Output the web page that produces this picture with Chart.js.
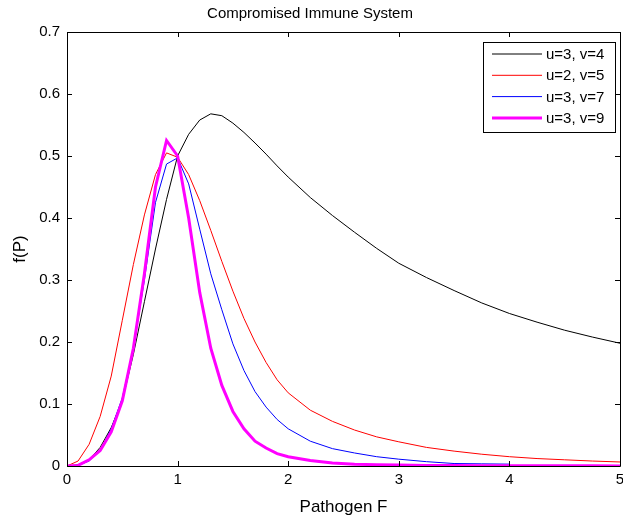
<!DOCTYPE html>
<html>
<head>
<meta charset="utf-8">
<script src="https://cdn.jsdelivr.net/npm/chart.js@4"></script>
<style>
    html, body { margin: 0; padding: 0; background: #fff; }
    #wrap { width: 623px; height: 520px; }
</style>
</head>
<body>
<div id="wrap"><canvas id="grafico" width="623" height="520"></canvas></div>
<script>
// valores (paso 0.1 hasta 2, luego mas espaciado)
var xs = [0, 0.1, 0.2, 0.3, 0.4, 0.5, 0.6, 0.7, 0.8, 0.9, 1.0, 1.1, 1.2, 1.3, 1.4, 1.5, 1.6, 1.7, 1.8, 1.9, 2.0,
    2.2, 2.4, 2.6, 2.8, 3.0, 3.25, 3.5, 3.75, 4.0, 4.25, 4.5, 4.75, 5.0];

var u3v4 = [0, 0.002, 0.01, 0.03, 0.062, 0.105, 0.18, 0.265, 0.35, 0.43, 0.5, 0.535, 0.558, 0.568, 0.565, 0.553, 0.538, 0.521, 0.503, 0.484, 0.466,
    0.433, 0.404, 0.377, 0.351, 0.327, 0.304, 0.283, 0.263, 0.246, 0.232, 0.219, 0.208, 0.198];
var u2v5 = [0, 0.008, 0.035, 0.08, 0.145, 0.235, 0.325, 0.405, 0.47, 0.505, 0.498, 0.47, 0.428, 0.38, 0.33, 0.282, 0.238, 0.2, 0.167, 0.139, 0.118,
    0.09, 0.072, 0.058, 0.047, 0.039, 0.03, 0.024, 0.019, 0.015, 0.012, 0.01, 0.008, 0.0065];
var u3v7 = [0, 0.001, 0.008, 0.025, 0.06, 0.11, 0.19, 0.3, 0.425, 0.487, 0.497, 0.455, 0.382, 0.31, 0.252, 0.197, 0.154, 0.12, 0.095, 0.075, 0.06,
    0.04, 0.028, 0.021, 0.015, 0.011, 0.007, 0.004, 0.0035, 0.003];
var u3v9 = [0, 0.001, 0.01, 0.025, 0.055, 0.105, 0.19, 0.31, 0.45, 0.525, 0.5, 0.4, 0.28, 0.19, 0.13, 0.088, 0.06, 0.04, 0.029, 0.02, 0.015,
    0.009, 0.005, 0.003, 0.002, 0.0015, 0.001, 0.0008, 0.0006, 0.0005, 0.0004, 0.0003, 0.0003, 0.0002];

var etiquetas = ['u=3, v=4', 'u=2, v=5', 'u=3, v=7', 'u=3, v=9'];
var colores = ['#000000', '#ff0000', '#0000ff', '#ff00ff'];
var grosores = [1, 1, 1, 3];
var series = [u3v4, u2v5, u3v7, u3v9];

var fuente = "'Liberation Sans', Arial, sans-serif";

function puntos(ys) {
    return ys.map(function (y, i) {
        return { x: xs[i], y: y };
    });
}

var datasets = series.map(function (ys, i) {
    return {
        label: etiquetas[i],
        data: puntos(ys),
        borderColor: colores[i],
        backgroundColor: colores[i],
        borderWidth: grosores[i],
        pointRadius: 0,
        tension: 0,
        order: 4 - i
    };
});

// caja tipo matlab con ticks hacia adentro y leyenda dentro del area
var cajaPlugin = {
    id: 'caja',
    afterDatasetsDraw: function (chart) {
        var ctx = chart.ctx;
        var a = chart.chartArea;
        var sx = chart.scales.x;
        var sy = chart.scales.y;
        ctx.save();
        ctx.strokeStyle = '#000';
        ctx.lineWidth = 1;
        ctx.beginPath();
        ctx.rect(Math.round(a.left) + 0.5, Math.round(a.top) + 0.5, Math.round(a.right - a.left), Math.round(a.bottom - a.top));
        sx.ticks.forEach(function (t) {
            var px = Math.round(sx.getPixelForValue(t.value)) + 0.5;
            ctx.moveTo(px, a.bottom);
            ctx.lineTo(px, a.bottom - 5);
            ctx.moveTo(px, a.top);
            ctx.lineTo(px, a.top + 5);
        });
        sy.ticks.forEach(function (t) {
            var py = Math.round(sy.getPixelForValue(t.value)) + 0.5;
            ctx.moveTo(a.left, py);
            ctx.lineTo(a.left + 5, py);
            ctx.moveTo(a.right, py);
            ctx.lineTo(a.right - 5, py);
        });
        ctx.stroke();

        // leyenda
        var lx = 483.5, ly = 42.5, lw = 132, lh = 90;
        ctx.fillStyle = '#fff';
        ctx.fillRect(lx, ly, lw, lh);
        ctx.strokeRect(lx, ly, lw, lh);
        ctx.font = '15px ' + fuente;
        ctx.textBaseline = 'middle';
        chart.data.datasets.forEach(function (ds, i) {
            var yy = 54 + i * 21.3;
            ctx.strokeStyle = ds.borderColor;
            ctx.lineWidth = ds.borderWidth;
            ctx.beginPath();
            ctx.moveTo(492, yy);
            ctx.lineTo(542, yy);
            ctx.stroke();
            ctx.fillStyle = '#000';
            ctx.fillText(ds.label, 546, yy + 1);
        });
        ctx.restore();
    }
};

var ctx = document.getElementById('grafico');
var grafico = new Chart(ctx, {
    type: 'line',
    data: { datasets: datasets },
    options: {
        responsive: false,
        animation: false,
        layout: { padding: { left: 0, right: 3, top: 0, bottom: 0 } },
        plugins: {
            legend: { display: false },
            tooltip: { enabled: false },
            title: {
                display: true,
                text: 'Compromised Immune System',
                color: '#000',
                font: { family: fuente, size: 15, weight: 'normal' },
                padding: { top: 5, bottom: 9 }
            }
        },
        scales: {
            x: {
                type: 'linear',
                min: 0,
                max: 5,
                ticks: {
                    stepSize: 1,
                    color: '#000',
                    padding: 5,
                    maxRotation: 0,
                    font: { family: fuente, size: 15 }
                },
                grid: { display: false, drawTicks: false },
                border: { display: false },
                title: {
                    display: true,
                    text: 'Pathogen F',
                    color: '#000',
                    font: { family: fuente, size: 17 },
                    padding: { top: 0, bottom: 2 }
                },
                afterFit: function (scale) {
                    scale.height = 54;
                    scale.paddingLeft = 0;
                    scale.paddingRight = 0;
                }
            },
            y: {
                min: 0,
                max: 0.7,
                ticks: {
                    stepSize: 0.1,
                    color: '#000',
                    padding: 7,
                    font: { family: fuente, size: 15 }
                },
                grid: { display: false, drawTicks: false },
                border: { display: false },
                title: {
                    display: true,
                    text: 'f(P)',
                    color: '#000',
                    font: { family: fuente, size: 17 },
                    padding: { top: 10, bottom: 0 }
                },
                afterFit: function (scale) {
                    scale.width = 67;
                }
            }
        }
    },
    plugins: [cajaPlugin]
});
</script>
</body>
</html>
